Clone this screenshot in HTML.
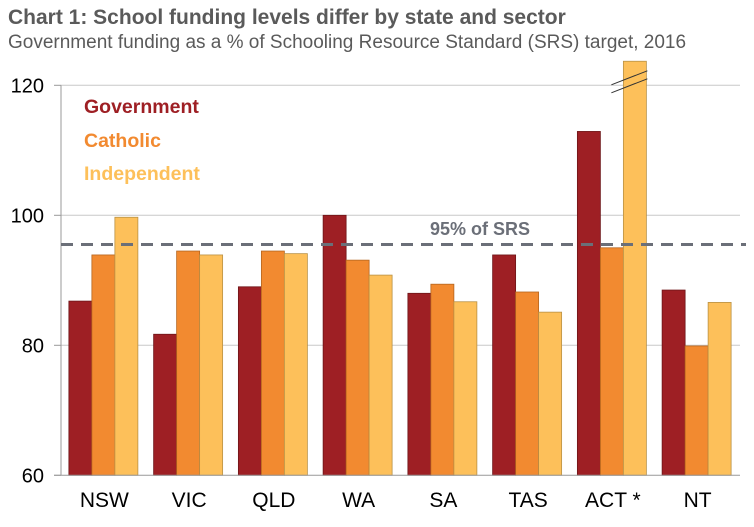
<!DOCTYPE html>
<html><head><meta charset="utf-8"><style>
body{margin:0;background:#fff;font-family:"Liberation Sans",Arial,sans-serif}
</style></head><body>
<svg id="chart" width="754" height="522" xmlns="http://www.w3.org/2000/svg" font-family="Liberation Sans, Arial, sans-serif">
<text x="8" y="24" font-size="21" font-weight="bold" fill="#5a5a5a">Chart 1: School funding levels differ by state and sector</text>
<text x="8" y="48" font-size="19" fill="#5a5a5a">Government funding as a % of Schooling Resource Standard (SRS) target, 2016</text>
<g id="grid"></g><g id="bars"></g><g id="axes"></g>
</svg>
<script>
const categories=["NSW","VIC","QLD","WA","SA","TAS","ACT *","NT"];
const government=[86.8,81.7,89.0,100.0,88.0,93.9,112.9,88.5];
const catholic=[93.9,94.5,94.5,93.1,89.4,88.2,95.0,79.9];
const independent=[99.7,93.9,94.1,90.8,86.7,85.1,123.7,86.6];
const yTicks=[60,80,100,120];
const threshold=95.5;
const NS="http://www.w3.org/2000/svg";
const x0=61,x1=739,yMin=60,yMax=120,py0=475.3,py1=85.3;
const y=v=>py0-(v-yMin)/(yMax-yMin)*(py0-py1);
const band=(x1-x0)/categories.length;
function mk(tag,attrs,parent,txt){const e=document.createElementNS(NS,tag);for(const k in attrs)e.setAttribute(k,attrs[k]);if(txt!==undefined)e.textContent=txt;parent.appendChild(e);return e;}
const grid=document.getElementById('grid'),bars=document.getElementById('bars'),axes=document.getElementById('axes');
yTicks.forEach(t=>{
  if(t>yMin){const g=mk('line',{x1:x0,x2:x1+1,y1:y(t),y2:y(t),stroke:'#c8c8c8','stroke-width':1},grid);
  
  }
  const tk=mk('line',{x1:x0-7,x2:x0,y1:y(t),y2:y(t),stroke:'#999'},axes);
  
  
  const l=mk('text',{x:44,y:y(t)+7,'text-anchor':'end','font-size':20,fill:'#000'},axes,t);
  
  
});
const series=[["government",government,"#9e1f24","#6e1518"],["catholic",catholic,"#f28a30","#b5651f"],["independent",independent,"#fdc05a","#b99145"]];
const bw=23;
categories.forEach((c,i)=>{
  const cx=x0+band*(i+0.5);
  series.forEach((s,j)=>{
    const bx=cx-bw*1.5+j*bw;const v=s[1][i];
    const r=mk('rect',{x:bx,y:y(v),width:bw,height:py0-y(v),fill:s[2],stroke:s[3],'stroke-width':0.8},bars);
    
    
  });
  const t=mk('text',{x:cx+1,y:507,'text-anchor':'middle','font-size':21,fill:'#000'},axes,c);
  
  
});
const ai=categories.indexOf("ACT *");const acx=x0+band*(ai+0.5)+bw*0.5;
[0,8].forEach(o=>{const b=mk('line',{x1:acx-12,y1:y(121)+6+o,x2:acx+24,y2:y(121)-8+o,stroke:'#333','stroke-width':1},axes);

});
const ax=mk('line',{x1:x0,x2:x0,y1:py1,y2:py0,stroke:'#999'},axes);


const xa=mk('line',{x1:x0-7,x2:x1+1,y1:py0,y2:py0,stroke:'#999'},axes);


const th=mk('line',{x1:x0,x2:746,y1:y(threshold),y2:y(threshold),stroke:'#6b6f78','stroke-width':3,'stroke-dasharray':'12,8'},axes);


const tl=mk('text',{x:430,y:235,'font-size':18,'font-weight':'bold',fill:'#6b6f78'},axes,'95% of SRS');


const leg=[["Government","#9e1f24",113],["Catholic","#f28a30",147],["Independent","#fdc05a",180]];
leg.forEach(l=>{const e=mk('text',{x:84,y:l[2],'font-size':19.5,'font-weight':'bold',fill:l[1]},axes,l[0]);

});
</script>
</body></html>
